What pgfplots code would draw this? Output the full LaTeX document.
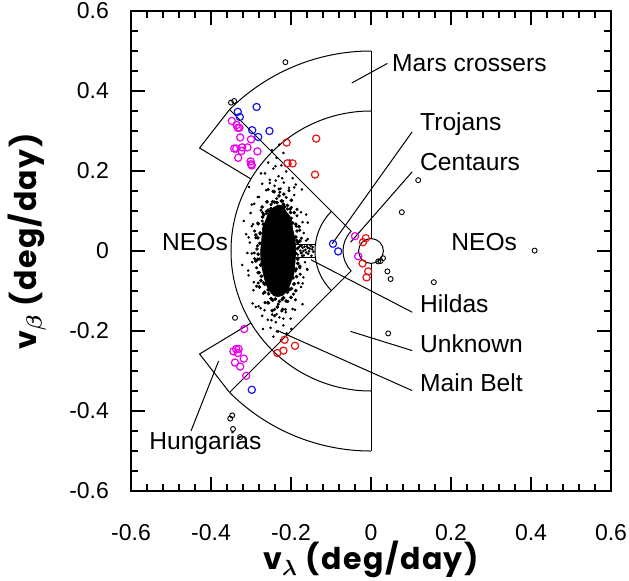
\documentclass[border=0pt]{standalone}
\usepackage{pgfplots}
\pgfplotsset{compat=1.18}
\usepackage{bm}
\usepackage{fontspec}
\setmainfont{Liberation Sans}
\newfontfamily\labfont{Poppins}[LetterSpace=5]
\definecolor{mblue}{RGB}{20,20,235}
\definecolor{mmag}{RGB}{235,0,235}
\definecolor{mred}{RGB}{235,20,20}
\begin{document}
\begin{tikzpicture}
\begin{axis}[
  name=ax,
  x=200pt, y=200pt,
  xmin=-0.6, xmax=0.6, ymin=-0.6, ymax=0.6,
  clip=false,
  axis line style={line width=1.4pt},
  tick style={line width=0.9pt, black},
  major tick length=7pt, minor tick length=3.5pt,
  tick align=inside,
  xtick={-0.6,-0.4,-0.2,0,0.2,0.4,0.6},
  xticklabels={-0.6,-0.4,-0.2,0,0.2,0.4,0.6},
  ytick={-0.6,-0.4,-0.2,0,0.2,0.4,0.6},
  yticklabels={-0.6,-0.4,-0.2,0,0.2,0.4,0.6},
  minor x tick num=4, minor y tick num=3,
  xticklabel style={font=\fontsize{11.5}{13}\selectfont, yshift=-13pt},
  yticklabel style={font=\fontsize{11.5}{13}\selectfont, xshift=-7.5pt},
  xlabel={\labfont\bfseries v$_{\bm{\lambda}}$ (deg/day)},
  ylabel={\labfont\bfseries v$_{\bm{\beta}}$ (deg/day)},
  xlabel style={at={(axis description cs:0.5,-0.143)}, anchor=center, font=\fontsize{15}{18}\selectfont},
  ylabel style={at={(axis description cs:-0.217,0.52)}, anchor=center, font=\fontsize{15}{18}\selectfont},
]
% ---- region boundaries ----
\addplot[black, line width=0.5pt] coordinates {(0,0.5) (0,0.031)};
\addplot[black, line width=0.5pt] coordinates {(0,-0.031) (0,-0.5)};
\addplot[black, line width=0.5pt] coordinates {(-0.3536,0.3536) (-0.0495,0.0495)};
\addplot[black, line width=0.5pt] coordinates {(-0.3536,-0.3536) (-0.0495,-0.0495)};
\addplot[black, line width=0.5pt] coordinates {(-0.3536,0.3536) (-0.4286,0.2575) (-0.300,0.180)};
\addplot[black, line width=0.5pt] coordinates {(-0.3536,-0.3536) (-0.4286,-0.2575) (-0.300,-0.180)};
\addplot[black, line width=0.5pt] coordinates {(-0.139,0.0155) (-0.19,0.0155)};
\addplot[black, line width=0.5pt] coordinates {(-0.139,-0.0155) (-0.19,-0.0155)};
\draw[black, line width=0.5pt] (axis cs:0,0.5) arc[start angle=90, end angle=135, radius=100pt];
\draw[black, line width=0.5pt] (axis cs:-0.3536,-0.3536) arc[start angle=225, end angle=270, radius=100pt];
\draw[black, line width=0.5pt] (axis cs:0,0.35) arc[start angle=90, end angle=270, radius=70pt];
\draw[black, line width=0.5pt] (axis cs:-0.099,0.099) arc[start angle=135, end angle=225, radius=28pt];
\draw[black, line width=0.5pt] (axis cs:-0.0495,0.0495) arc[start angle=135, end angle=225, radius=14pt];
\draw[black, line width=0.5pt] (axis cs:0,0) circle[radius=6.2pt];
% ---- main belt core ----
\addplot[fill=black, draw=black, line width=0.3pt] coordinates {
(-0.188,0.000) (-0.190,0.030) (-0.196,0.056) (-0.200,0.083) (-0.211,0.097) (-0.221,0.113) (-0.232,0.115)
(-0.243,0.109) (-0.254,0.101) (-0.262,0.080) (-0.271,0.058) (-0.273,0.030) (-0.276,0.000) (-0.275,-0.029)
(-0.269,-0.058) (-0.263,-0.082) (-0.255,-0.098) (-0.243,-0.112) (-0.232,-0.114) (-0.221,-0.111) (-0.209,-0.100)
(-0.201,-0.080) (-0.193,-0.058) (-0.190,-0.029) (-0.188,0.000)} -- cycle;
% ---- inner speckle band ----
\addplot[only marks, mark=*, mark size=0.7pt, black] coordinates {
(-0.184,0.006) (-0.178,0.025) (-0.188,0.035) (-0.180,0.061) (-0.188,0.067) (-0.196,0.070) (-0.192,0.096)
(-0.201,0.096) (-0.199,0.127) (-0.209,0.114) (-0.216,0.110) (-0.218,0.142) (-0.224,0.125) (-0.230,0.138)
(-0.235,0.121) (-0.242,0.148) (-0.246,0.123) (-0.250,0.106) (-0.260,0.123) (-0.261,0.099) (-0.272,0.110)
(-0.271,0.085) (-0.269,0.067) (-0.282,0.068) (-0.277,0.045) (-0.288,0.040) (-0.278,0.019) (-0.285,0.005)
(-0.282,-0.008) (-0.288,-0.025) (-0.276,-0.035) (-0.282,-0.054) (-0.274,-0.063) (-0.279,-0.090) (-0.266,-0.083)
(-0.266,-0.103) (-0.257,-0.097) (-0.258,-0.129) (-0.250,-0.119) (-0.247,-0.149) (-0.239,-0.120) (-0.234,-0.140)
(-0.229,-0.126) (-0.221,-0.146) (-0.219,-0.117) (-0.212,-0.125) (-0.209,-0.103) (-0.200,-0.116) (-0.199,-0.094)
(-0.188,-0.099) (-0.195,-0.067) (-0.186,-0.064) (-0.187,-0.045) (-0.178,-0.038) (-0.183,-0.018) (-0.188,-0.006)
(-0.183,0.021) (-0.185,0.050) (-0.202,0.105) (-0.219,0.117) (-0.241,0.122) (-0.257,0.102) (-0.268,0.091)
(-0.283,0.033) (-0.283,-0.021) (-0.275,-0.074) (-0.256,-0.107) (-0.246,-0.123) (-0.222,-0.121) (-0.203,-0.096)
(-0.192,-0.082) (-0.183,-0.031)};
% ---- middle speckle band ----
\addplot[only marks, mark=*, mark size=0.55pt, black] coordinates {
(-0.176,0.014) (-0.186,0.027) (-0.178,0.052) (-0.187,0.062) (-0.185,0.088) (-0.199,0.082) (-0.199,0.109)
(-0.209,0.105) (-0.212,0.134) (-0.221,0.125) (-0.228,0.147) (-0.236,0.131) (-0.245,0.149) (-0.250,0.116)
(-0.260,0.123) (-0.261,0.094) (-0.271,0.096) (-0.272,0.075) (-0.283,0.070) (-0.277,0.043) (-0.288,0.033)
(-0.284,0.013) (-0.292,-0.005) (-0.279,-0.020) (-0.286,-0.042) (-0.279,-0.054) (-0.282,-0.080) (-0.269,-0.079)
(-0.269,-0.106) (-0.257,-0.097) (-0.256,-0.130) (-0.247,-0.121) (-0.241,-0.146) (-0.232,-0.133) (-0.223,-0.150)
(-0.218,-0.117) (-0.208,-0.126) (-0.206,-0.098) (-0.194,-0.108) (-0.193,-0.083) (-0.182,-0.080) (-0.189,-0.050)
(-0.178,-0.042) (-0.183,-0.021) (-0.174,-0.005)
(-0.174,0.032) (-0.185,0.104) (-0.205,0.151) (-0.230,0.155) (-0.257,0.154) (-0.275,0.102) (-0.291,0.050)
(-0.291,-0.019) (-0.286,-0.088) (-0.265,-0.129) (-0.241,-0.162) (-0.214,-0.146) (-0.189,-0.122) (-0.177,-0.058)};
% ---- outer halo and Hildas dots ----
\addplot[only marks, mark=*, mark size=0.42pt, black] coordinates {
(-0.162,0.026) (-0.158,0.071) (-0.175,0.097) (-0.173,0.154) (-0.192,0.159) (-0.202,0.216) (-0.222,0.182)
(-0.239,0.212) (-0.253,0.170) (-0.275,0.194) (-0.280,0.135) (-0.298,0.116) (-0.295,0.067) (-0.306,0.034)
(-0.298,-0.006) (-0.307,-0.049) (-0.293,-0.078) (-0.296,-0.131) (-0.276,-0.143) (-0.270,-0.195) (-0.249,-0.173)
(-0.235,-0.201) (-0.219,-0.169) (-0.199,-0.195) (-0.190,-0.147) (-0.171,-0.133) (-0.171,-0.081) (-0.159,-0.047)
(-0.262,0.152) (-0.205,0.158) (-0.241,0.163) (-0.218,0.171) (-0.253,0.178) (-0.196,0.182) (-0.231,0.187)
(-0.265,0.194) (-0.212,0.199) (-0.244,0.206) (-0.224,0.214) (-0.257,0.221) (-0.203,0.226) (-0.236,0.233)
(-0.219,0.245) (-0.248,0.252) (-0.229,0.266) (-0.272,0.168) (-0.188,0.166) (-0.283,0.135) (-0.192,0.140)
(-0.238,0.176) (-0.226,0.156)
(-0.266,-0.148) (-0.213,-0.153) (-0.247,-0.159) (-0.229,-0.166) (-0.258,-0.172) (-0.201,-0.169) (-0.238,-0.178)
(-0.219,-0.186) (-0.251,-0.192) (-0.232,-0.201) (-0.211,-0.206) (-0.244,-0.214) (-0.225,-0.223) (-0.272,-0.162)
(-0.196,-0.145) (-0.281,-0.138) (-0.236,-0.158)
(-0.298,0.062) (-0.303,0.021) (-0.297,-0.028) (-0.306,-0.061) (-0.301,0.095) (-0.312,0.042) (-0.309,-0.005)
(-0.294,-0.098) (-0.318,0.075) (-0.322,-0.035) (-0.292,0.118) (-0.168,0.045) (-0.165,-0.028) (-0.171,0.072)
(-0.162,0.091) (-0.169,-0.066) (-0.175,-0.090) (-0.158,0.030) (-0.160,-0.045) (-0.288,-0.140) (-0.305,0.160)
(-0.18,0.010) (-0.175,-0.005) (-0.171,0.008) (-0.168,-0.011) (-0.164,0.003) (-0.160,0.012) (-0.157,-0.007)
(-0.153,0.006) (-0.149,-0.012) (-0.146,0.010) (-0.144,-0.002) (-0.177,0.001) (-0.172,-0.012) (-0.166,0.011)
(-0.162,-0.004) (-0.155,-0.001) (-0.151,0.013) (-0.147,0.004) (-0.158,0.008) (-0.169,0.000) (-0.183,-0.009)
(-0.174,0.013)};
% ---- black open circles ----
\addplot[only marks, mark=o, mark size=1.25pt, black, mark options={line width=0.45pt}] coordinates {
(-0.214,0.472) (-0.350,0.371) (-0.342,0.375) (0.077,0.097) (0.118,0.177) (0.409,0.001) (0.157,-0.078)
(0.018,-0.026) (0.024,-0.025) (0.030,-0.018) (0.041,-0.051) (0.049,-0.070) (-0.340,-0.167) (0.043,-0.206)
(-0.347,-0.411) (-0.352,-0.419) (-0.345,-0.445) (-0.327,-0.465)};
% ---- blue ----
\addplot[only marks, mark=o, mark size=1.8pt, mblue, mark options={line width=0.6pt}] coordinates {
(-0.333,0.348) (-0.328,0.335) (-0.286,0.360) (-0.297,0.302) (-0.282,0.285) (-0.254,0.300)
(-0.095,0.018) (-0.082,-0.001) (-0.298,-0.347)};
% ---- magenta ----
\addplot[only marks, mark=o, mark size=1.8pt, mmag, mark options={line width=0.6pt}] coordinates {
(-0.348,0.325) (-0.336,0.315) (-0.333,0.308) (-0.329,0.308) (-0.327,0.284) (-0.300,0.279) (-0.342,0.256)
(-0.337,0.256) (-0.322,0.259) (-0.324,0.250) (-0.309,0.259) (-0.284,0.249) (-0.332,0.233) (-0.301,0.224)
(-0.300,0.217) (-0.298,0.214)
(-0.040,0.037) (-0.032,-0.013)
(-0.317,-0.195) (-0.344,-0.251) (-0.337,-0.245) (-0.331,-0.245) (-0.333,-0.255) (-0.318,-0.269)
(-0.340,-0.279) (-0.327,-0.289) (-0.312,-0.312)};
% ---- red ----
\addplot[only marks, mark=o, mark size=1.8pt, mred, mark options={line width=0.6pt}] coordinates {
(-0.211,0.271) (-0.137,0.281) (-0.209,0.219) (-0.196,0.219) (-0.140,0.191)
(-0.216,-0.222) (-0.190,-0.237) (-0.219,-0.249) (-0.234,-0.255)
(-0.013,0.032) (-0.020,0.022) (-0.021,-0.031) (-0.007,-0.051) (-0.011,-0.066)};
% ---- leaders ----
\draw[black, line width=0.5pt] (axis cs:-0.048,0.420) -- (axis cs:0.041,0.469);
\draw[black, line width=0.5pt] (axis cs:-0.097,0.018) -- (axis cs:0.103,0.298);
\draw[black, line width=0.5pt] (axis cs:-0.051,0.022) -- (axis cs:0.103,0.198);
\draw[black, line width=0.5pt] (axis cs:-0.150,-0.022) -- (axis cs:0.103,-0.153);
\draw[black, line width=0.5pt] (axis cs:-0.051,-0.201) -- (axis cs:0.103,-0.249);
\draw[black, line width=0.5pt] (axis cs:-0.229,-0.201) -- (axis cs:0.103,-0.349);
\draw[black, line width=0.5pt] (axis cs:-0.381,-0.275) -- (axis cs:-0.450,-0.450);
% ---- labels ----
\begin{scope}[every node/.style={inner sep=0pt, font=\fontsize{12.3}{14}\selectfont}]
\node[anchor=base west] at (axis cs:0.052,0.448) {Mars crossers};
\node[anchor=base west] at (axis cs:0.122,0.300) {Trojans};
\node[anchor=base west] at (axis cs:0.122,0.200) {Centaurs};
\node[anchor=base] at (axis cs:-0.440,0.0) {NEOs};
\node[anchor=base] at (axis cs:0.283,0.0) {NEOs};
\node[anchor=base west] at (axis cs:0.122,-0.154) {Hildas};
\node[anchor=base west] at (axis cs:0.122,-0.254) {Unknown};
\node[anchor=base west] at (axis cs:0.122,-0.352) {Main Belt};
\node[anchor=base] at (axis cs:-0.414,-0.497) {Hungarias};
\end{scope}
\end{axis}
\pgfresetboundingbox
\path ([shift={(-65.5pt,-45pt)}]ax.south west) rectangle ([shift={(9pt,5.5pt)}]ax.north east);
\end{tikzpicture}
\end{document}
